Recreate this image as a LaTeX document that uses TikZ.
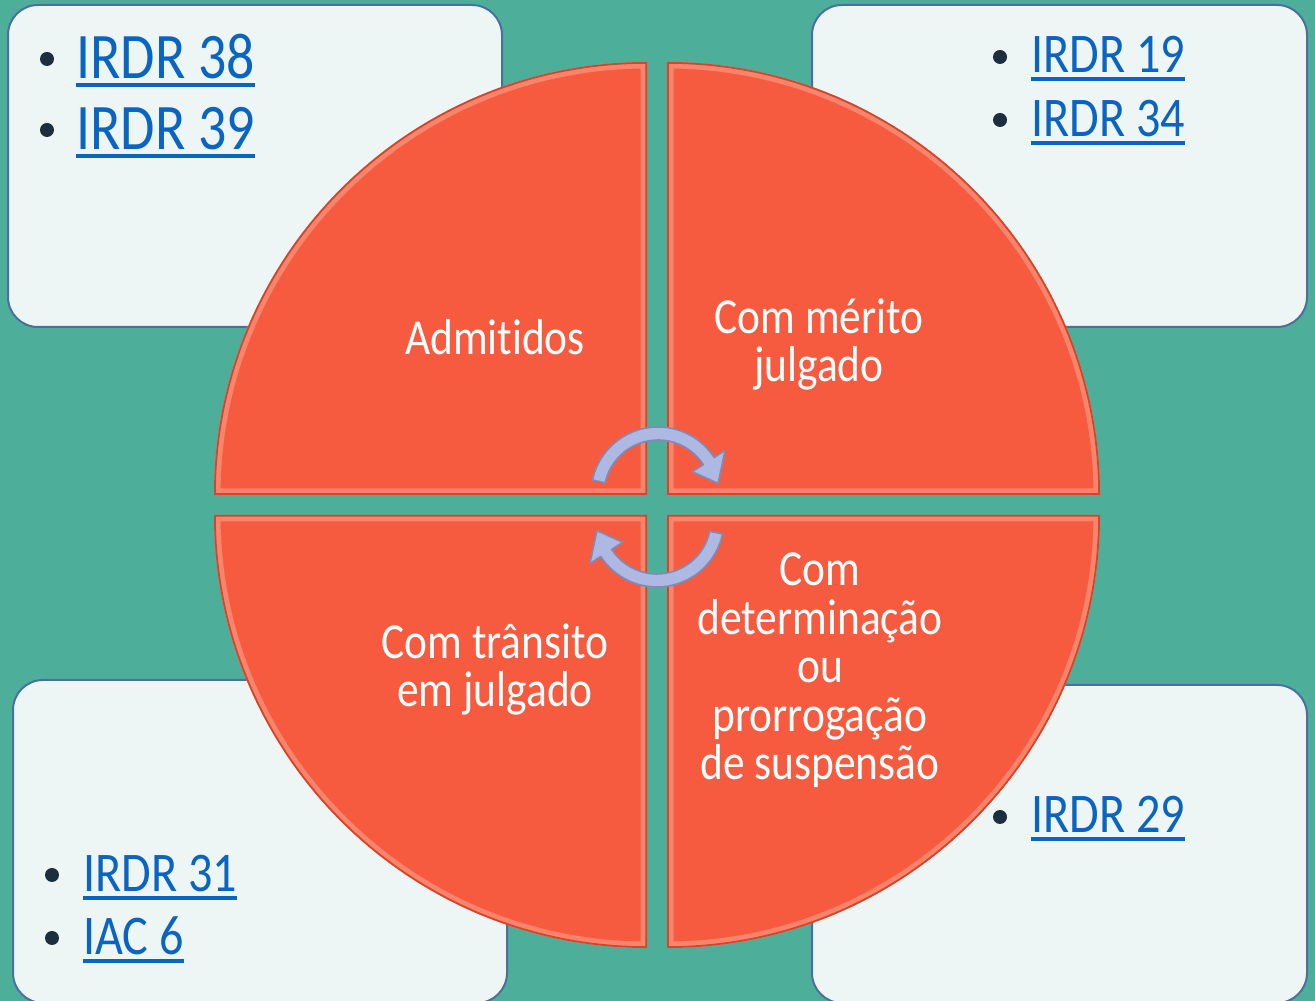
\documentclass[tikz,border=0pt]{standalone}
\usepackage{fontspec}
\setmainfont{Carlito}[FakeStretch=0.86, Ligatures=NoCommon]
\usepackage{xcolor}
\usepackage{tikz}
\usetikzlibrary{positioning}

\definecolor{bgteal}{HTML}{4DAE9A}
\definecolor{boxfill}{HTML}{EDF6F5}
\definecolor{boxline}{HTML}{4A70A2}
\definecolor{quadfill}{HTML}{F65B40}
\definecolor{quadrim}{HTML}{D4452C}
\definecolor{quadlight}{HTML}{FCC2AE}
\definecolor{linkblue}{HTML}{0A64C1}
\definecolor{dotcol}{HTML}{1B2F3F}
\definecolor{cycfill}{HTML}{AEB9E3}
\definecolor{cycline}{HTML}{7D8BB8}

\begin{document}
\begin{tikzpicture}[x=1pt, y=1pt,
                box/.style={draw=boxline, line width=2, fill=boxfill, rounded corners=30},
                quad/.style={fill=quadfill},
                bevel/.style={draw=quadlight, line width=13, opacity=0.4},
                rim/.style={draw=quadrim, line width=3.5},
                lbl/.style={text=white, align=center, inner sep=0,
                            font=\fontsize{50.5}{48.5}\selectfont},
                dot/.style={circle, fill=dotcol, minimum size=14, inner sep=0},
                link/.style={text=linkblue, inner sep=0, anchor=base west,
                             font=\fontsize{65}{70}\selectfont},
                slink/.style={link, font=\fontsize{56}{60}\selectfont},
                uline/.style={draw=linkblue, line width=3.5},
                cyc/.style={fill=cycfill, draw=cycline, line width=1.6, line join=round}]
		\useasboundingbox (0,0) rectangle (1315,1001);
		\fill[bgteal] (0,0) rectangle (1315,1001);

		\begin{scope}
			\path[box] (8,674) rectangle (502,996);
			\path[box] (812,674) rectangle (1307,996);
			\path[box] (13,-2) rectangle (507,321);
			\path[box] (812,-2) rectangle (1307,316);
		\end{scope}

		\foreach \cx/\cy/\a in {647/506/90, 667/506/0, 667/486/270, 647/486/180} {
			\begin{scope}
				\clip (\cx,\cy) -- ++(\a:433) arc[start angle=\a, delta angle=90, radius=433] -- cycle;
				\path[quad] (\cx,\cy) -- ++(\a:433) arc[start angle=\a, delta angle=90, radius=433] -- cycle;
				\path[bevel] (\cx,\cy) -- ++(\a:433) arc[start angle=\a, delta angle=90, radius=433] -- cycle;
				\path[rim] (\cx,\cy) -- ++(\a:433) arc[start angle=\a, delta angle=90, radius=433] -- cycle;
			\end{scope}
		}

		\coordinate (ca) at (658,507);
		\coordinate (cb) at (657,481);
		\path[cyc] ([shift={(168:67)}]ca) arc[start angle=168, end angle=33, radius=67]
			-- ([shift={(33:80)}]ca) -- ([shift={(10:61)}]ca) -- ([shift={(33:41)}]ca)
			-- ([shift={(33:54)}]ca) arc[start angle=33, end angle=168, radius=54] -- cycle;
		\path[cyc] ([shift={(-12:67)}]cb) arc[start angle=-12, end angle=-147, radius=67]
			-- ([shift={(-147:80)}]cb) -- ([shift={(-170:61)}]cb) -- ([shift={(-147:41)}]cb)
			-- ([shift={(-147:54)}]cb) arc[start angle=-147, end angle=-12, radius=54] -- cycle;

		\node [lbl, anchor=base] (adm) at (495,646) {Admitidos};
		\node [lbl, anchor=base] (mer) at (819,619) {Com mérito\\julgado};
		\node [lbl, anchor=base] (tra) at (495,294) {Com trânsito\\em julgado};
		\node [lbl, anchor=base] (det) at (820,221) {Com\\determinação\\ou\\prorrogação\\de suspensão};

		\node [dot] (b38) at (47,942) {};
		\node [dot] (b39) [below of=b38, node distance=71] {};
		\node [link] (l38) at (76,922) {IRDR 38};
		\node [link] (l39) at (76,851) {IRDR 39};

		\node [dot] (b19) at (1000,944) {};
		\node [dot] (b34) [below of=b19, node distance=63] {};
		\node [slink] (l19) at (1031,928) {IRDR 19};
		\node [slink] (l34) at (1031,864) {IRDR 34};

		\node [dot] (b31) at (52,126) {};
		\node [dot] (b6) [below of=b31, node distance=63] {};
		\node [slink] (l31) at (83,109) {IRDR 31};
		\node [slink] (l6) at (83,46) {IAC 6};

		\node [dot] (b29) at (1000,184) {};
		\node [slink] (l29) at (1031,168) {IRDR 29};

		\foreach \n in {l38,l39,l19,l34,l31,l6,l29}
			\path[uline] ([yshift=-6]\n.base west) -- ([yshift=-6]\n.base east);
\end{tikzpicture}
\end{document}
